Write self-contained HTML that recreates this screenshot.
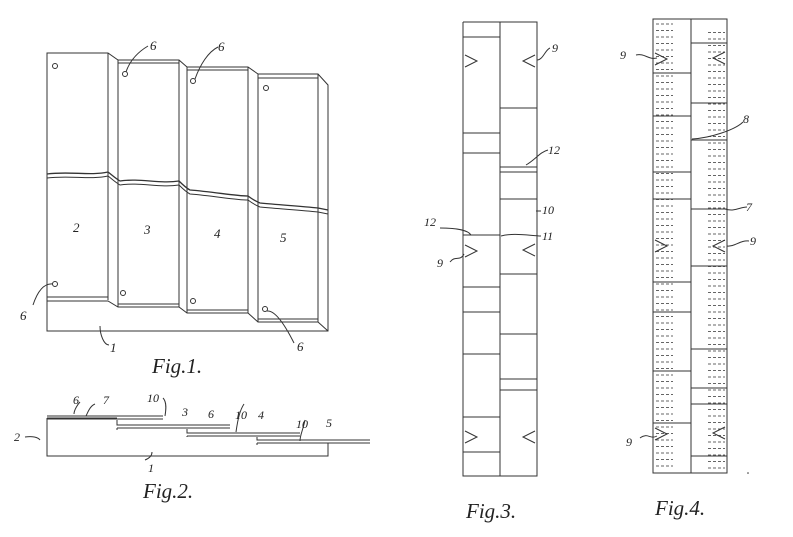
<!DOCTYPE html>
<html><head><meta charset="utf-8"><style>
html,body{margin:0;padding:0;background:#fff;width:793px;height:537px;overflow:hidden}
svg text{font-family:"Liberation Serif",serif;font-style:italic;fill:#222}
</style></head><body>
<svg id="s" width="793" height="537" viewBox="0 0 793 537" xmlns="http://www.w3.org/2000/svg" fill="none" stroke="#333" stroke-width="1">
<!-- FIG 1 -->
<g>
<path d="M47,53 H108 L118,60 H179 L187,67 H248 L258,74 H318 L328,85 V331 H47 Z"/>
<path d="M108,53 V300 M118,60 V307 M179,60 V307 M187,67 V313 M248,67 V313 M258,74 V322 M318,74 V322"/>
<path d="M118,63 H179 M187,70 H248 M258,78 H318"/>
<path d="M47,297 H108 M47,301 H108 L118,307 H179 L187,313 H248 L258,322 H318 L328,331"/>
<path d="M118,304 H179 M187,310 H248 M258,319 H318"/>
<path d="M47,174 C70,171 90,176 108,172 C112,175 115,178 120,181 C140,178 160,184 179,181 C183,185 186,188 190,190 C215,192 235,196 248,196 C252,199 255,201 260,203 C280,205 300,206 318,208 L328,210" stroke-width="1.3"/>
<path d="M47,178 C70,175 90,180 108,176 C112,179 115,182 120,185 C140,182 160,188 179,185 C183,189 186,192 190,194 C215,196 235,200 248,200 C252,203 255,205 260,207 C280,209 300,210 318,212 L328,214" stroke-width="1"/>
<circle cx="55" cy="66" r="2.5"/><circle cx="125" cy="74" r="2.5"/><circle cx="193" cy="81" r="2.5"/><circle cx="266" cy="88" r="2.5"/>
<circle cx="55" cy="284" r="2.5"/><circle cx="123" cy="293" r="2.5"/><circle cx="193" cy="301" r="2.5"/><circle cx="265" cy="309" r="2.5"/>
<path d="M126,72 C130,60 138,52 148,46 M195,79 C200,65 208,52 218,47 M267,311 C275,310 285,325 294,343 M53,284 C45,283 38,290 33,305 M100,326 C100,335 104,345 109,345"/>
</g>
<g stroke="none">
<text x="73" y="232" font-size="13">2</text><text x="144" y="234" font-size="13">3</text><text x="214" y="238" font-size="13">4</text><text x="280" y="242" font-size="13">5</text>
<text x="150" y="50" font-size="13">6</text><text x="218" y="51" font-size="13">6</text><text x="297" y="351" font-size="13">6</text><text x="20" y="320" font-size="13">6</text>
<text x="110" y="352" font-size="13">1</text>
<text x="152" y="373" font-size="21">Fig.1.</text>
</g>
<!-- FIG 2 -->
<g>
<path d="M47,418 V456 H328 V443"/>
<path d="M47,416 H163 M47,419 H163" />
<path d="M117,420 V425 H230 M117,428 H230"/>
<path d="M187,429 V433 H300 M187,436 H300"/>
<path d="M257,437 V440 H370 M257,443 H370"/>
<path d="M47,418 H117 M117,428 V430 M187,436 V437 M257,443 V445"/>
<path d="M163,398 C167,402 166,410 165,416 M244,404 C240,410 238,418 236,432 M305,420 C303,430 300,435 300,441 M40,440 C38,437 32,436 25,437 M145,460 C150,458 152,455 152,452 M95,404 C90,406 88,412 86,416 M80,402 C78,404 74,410 74,414"/>
</g>
<g stroke="none">
<text x="73" y="404" font-size="12">6</text><text x="103" y="404" font-size="12">7</text><text x="147" y="402" font-size="12">10</text>
<text x="182" y="416" font-size="12">3</text><text x="208" y="418" font-size="12">6</text><text x="235" y="419" font-size="12">10</text>
<text x="258" y="419" font-size="12">4</text><text x="296" y="428" font-size="12">10</text><text x="326" y="427" font-size="12">5</text>
<text x="14" y="441" font-size="12">2</text><text x="148" y="472" font-size="12">1</text>
<text x="143" y="498" font-size="21">Fig.2.</text>
</g>
<!-- FIG 3 -->
<g>
<path d="M463,22 V476 H537 V22 H500 V476 M463,22 H500" />
<path d="M463,37 H500 M463,133 H500 M463,153 H500 M463,235 H500 M463,287 H500 M463,312 H500 M463,354 H500 M463,417 H500 M463,452 H500"/>
<path d="M500,108 H537 M500,167 H537 M500,172 H537 M500,199 H537 M500,274 H537 M500,334 H537 M500,379 H537 M500,390 H537"/>
<path d="M465,55 L477,61 L465,67 M465,245 L477,251 L465,257 M465,431 L477,437 L465,443"/>
<path d="M535,55 L523,61 L535,67 M535,244 L523,250 L535,256 M535,431 L523,437 L535,443"/>
<path d="M537,60 C543,60 545,50 550,48 M526,165 C535,160 540,152 548,150 M536,211 H541 M501,236 C512,233 525,235 541,236 M440,228 C455,228 468,230 471,235 M450,262 C455,255 460,262 464,254"/>
</g>
<g stroke="none">
<text x="552" y="52" font-size="12">9</text><text x="548" y="154" font-size="12">12</text><text x="542" y="214" font-size="12">10</text><text x="542" y="240" font-size="12">11</text>
<text x="424" y="226" font-size="12">12</text><text x="437" y="267" font-size="12">9</text>
<text x="466" y="518" font-size="21">Fig.3.</text>
</g>
<!-- FIG 4 -->
<g>
<path d="M653,19 V473 H727 V19 Z M691,19 V473"/>
<path d="M653,73 H691 M653,116 H691 M653,172 H691 M653,199 H691 M653,282 H691 M653,312 H691 M653,371 H691 M653,423 H691"/>
<path d="M691,43 H727 M691,103 H727 M691,140 H727 M691,209 H727 M691,266 H727 M691,349 H727 M691,388 H727 M691,404 H727 M691,456 H727"/>
<path d="M655,53 L667,59 L655,65 M655,240 L667,246 L655,252 M655,428 L667,434 L655,440"/>
<path d="M725,52 L713,58 L725,64 M725,240 L713,246 L725,252 M725,427 L713,433 L725,439"/>
<path d="M636,55 C645,53 648,60 657,58 M692,139 C710,138 735,130 743,122 M725,209 C735,212 740,207 747,207 M727,246 C735,247 740,240 749,241 M640,438 C648,432 650,440 657,436"/>
<g id="d" stroke-width="0.8" stroke-dasharray="3,2"></g>
</g>
<g stroke="none">
<text x="620" y="59" font-size="12">9</text><text x="743" y="123" font-size="12">8</text><text x="746" y="211" font-size="12">7</text><text x="750" y="245" font-size="12">9</text><text x="626" y="446" font-size="12">9</text>
<text x="655" y="515" font-size="21">Fig.4.</text>
</g>
<circle cx="748" cy="473" r="0.8" fill="#333" stroke="none"/>
</svg>
<script>
var g=document.getElementById('d'),h='';
for(var y=24;y<470;y+=6.5){
 h+='<line x1="656" y1="'+y+'" x2="673" y2="'+y+'"/>';
 if(y>30) h+='<line x1="708" y1="'+(y+2)+'" x2="725" y2="'+(y+2)+'"/>';
}
g.innerHTML=h;
</script>
</body></html>
